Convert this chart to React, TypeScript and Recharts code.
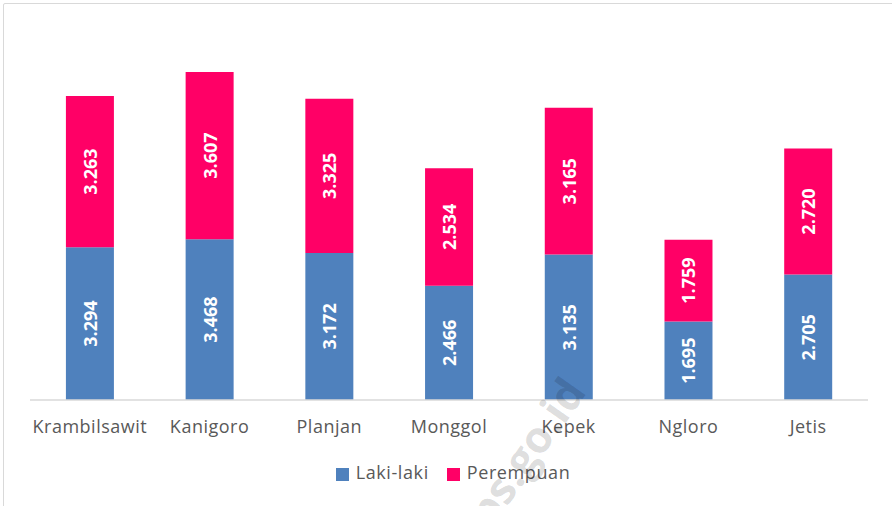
import { BarChart, Bar, XAxis, YAxis, Legend, LabelList } from 'recharts'

const desa = ['Krambilsawit', 'Kanigoro', 'Planjan', 'Monggol', 'Kepek', 'Ngloro', 'Jetis']
const lakiLaki = [3294, 3468, 3172, 2466, 3135, 1695, 2705]
const perempuan = [3263, 3607, 3325, 2534, 3165, 1759, 2720]

const data = desa.map((name, i) => ({ name, laki: lakiLaki[i], perempuan: perempuan[i] }))

const fmt = (v: number) => String(v).replace(/\B(?=(\d{3})+(?!\d))/g, '.')

const VerticalLabel = (props: any) => {
  const { x, y, width, height, value } = props
  const cx = x + width / 2
  const cy = y + height / 2
  return (
    <text
      x={cx}
      y={cy}
      transform={`rotate(-90 ${cx} ${cy})`}
      textAnchor="middle"
      dominantBaseline="central"
      fill="#fff"
      fontWeight={700}
      fontSize={18}
      fontFamily="'Open Sans', sans-serif"
    >
      {fmt(value)}
    </text>
  )
}

export default function App() {
  return (
    <div style={{ position: 'absolute', left: 0, top: 0, width: 892, height: 506, overflow: 'hidden', background: '#fff' }}>
      <div style={{ position: 'absolute', left: 3, top: 3, width: 900, height: 520, border: '1.5px solid #d9d9d9', borderRadius: 2 }} />
      <BarChart
        width={892}
        height={506}
        data={data}
        margin={{ top: 29, right: 24, bottom: 52, left: 30 }}
        barCategoryGap="30%"
        style={{ fontFamily: "'Open Sans', sans-serif" }}
      >
        <YAxis hide domain={[0, 8000]} />
        <XAxis
          dataKey="name"
          stroke="#d9d9d9"
          strokeWidth={1.5}
          tickLine={false}
          tick={{ fill: '#595959', fontSize: 18, letterSpacing: 0.5 }}
          tickMargin={14}
          interval={0}
        />
        <Legend
          verticalAlign="bottom"
          iconType="square"
          iconSize={13}
          wrapperStyle={{ bottom: 22, paddingLeft: 13, fontSize: 18, letterSpacing: 0.6, color: '#595959' }}
          formatter={(v: string) => <span style={{ color: '#595959', marginLeft: 3, marginRight: 8 }}>{v}</span>}
        />
        <Bar dataKey="laki" name="Laki-laki" stackId="a" fill="#4f81bd" isAnimationActive={false}>
          <LabelList dataKey="laki" content={VerticalLabel} />
        </Bar>
        <Bar dataKey="perempuan" name="Perempuan" stackId="a" fill="#ff0066" isAnimationActive={false}>
          <LabelList dataKey="perempuan" content={VerticalLabel} />
        </Bar>
      </BarChart>
      <div
        style={{
          position: 'absolute',
          left: 461,
          top: 513,
          transform: 'rotate(-55deg)',
          transformOrigin: 'left center',
          fontFamily: "'Open Sans', sans-serif",
          fontWeight: 700,
          fontSize: 44,
          color: 'rgba(0,0,0,0.14)',
          whiteSpace: 'nowrap',
          pointerEvents: 'none',
        }}
      >
        bps.go.id
      </div>
    </div>
  )
}
